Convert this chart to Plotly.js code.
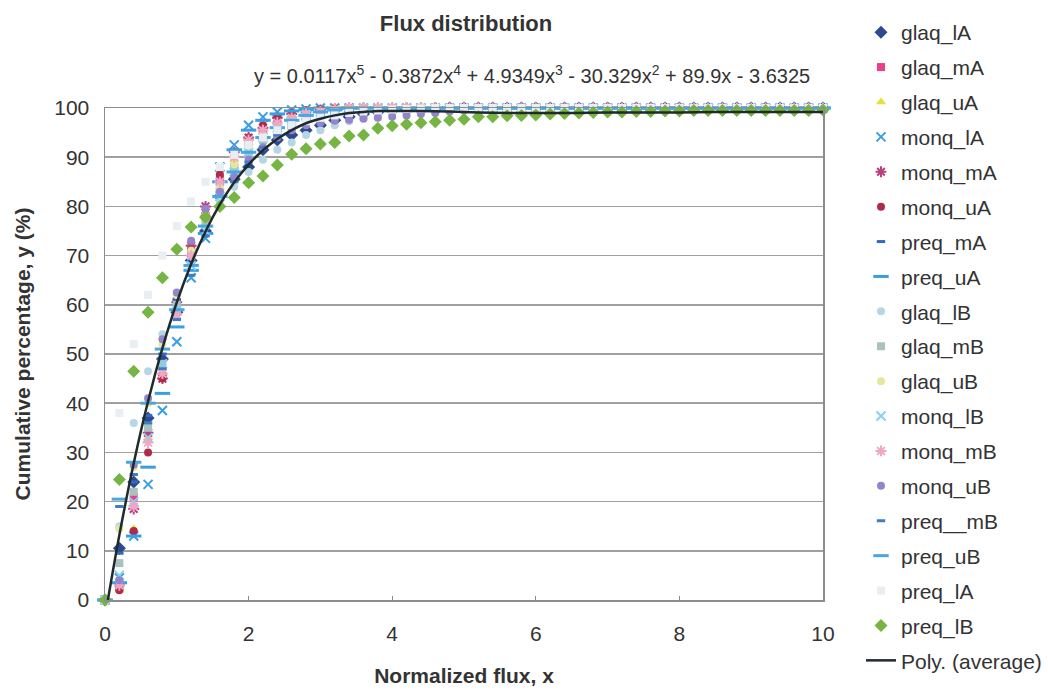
<!DOCTYPE html>
<html>
<head>
<meta charset="utf-8">
<script src="https://cdn.plot.ly/plotly-3.0.1.min.js"></script>
<style>
  html, body { margin: 0; padding: 0; background: #ffffff; }
  #chart { width: 1048px; height: 691px; }
</style>
</head>
<body>
<div id="chart"></div>
<script>
// Normalized flux sample points (x)
const fluxX = [
  0, 0.2, 0.4, 0.6, 0.8, 1, 1.2, 1.4, 1.6, 1.8,
  2, 2.2, 2.4, 2.6, 2.8, 3, 3.2, 3.4, 3.6, 3.8,
  4, 4.2, 4.4, 4.6, 4.8, 5, 5.2, 5.4, 5.6, 5.8,
  6, 6.2, 6.4, 6.6, 6.8, 7, 7.2, 7.4, 7.6, 7.8,
  8, 8.2, 8.4, 8.6, 8.8, 9, 9.2, 9.4, 9.6, 9.8,
  10
];

// Cumulative percentage for each sample set
const glaq_lA = [
  0, 10.5, 24, 37, 49, 58.5, 69, 75, 82, 85.5,
  88, 91.5, 93.5, 94.5, 95.5, 96.5, 97.5, 98.2, 98.8, 99.2,
  99.5, 99.7, 99.8, 99.9, 100, 100, 100, 100, 100, 100,
  100, 100, 100, 100, 100, 100, 100, 100, 100, 100,
  100, 100, 100, 100, 100, 100, 100, 100, 100, 100,
  100
];
const glaq_mA = [
  0, 2.5, 21, 34, 45.5, 60, 71.5, 78, 85.5, 88,
  92.5, 94, 96, 97.2, 98.2, 99, 99.4, 99.7, 99.9, 100,
  100, 100, 100, 100, 100, 100, 100, 100, 100, 100,
  100, 100, 100, 100, 100, 100, 100, 100, 100, 100,
  100, 100, 100, 100, 100, 100, 100, 100, 100, 100,
  100
];
const glaq_uA = [
  0, 2, 14.5, 33, 46, 61, 72.5, 78.5, 84, 89.5,
  93, 95.5, 97, 98.2, 99, 99.5, 99.8, 100, 100, 100,
  100, 100, 100, 100, 100, 100, 100, 100, 100, 100,
  100, 100, 100, 100, 100, 100, 100, 100, 100, 100,
  100, 100, 100, 100, 100, 100, 100, 100, 100, 100,
  100
];
const monq_lA = [
  0, 4.5, 13, 23.5, 38.5, 52.5, 65.5, 73.5, 88, 92.5,
  96.5, 98.2, 99.2, 99.6, 99.8, 100, 100, 100, 100, 100,
  100, 100, 100, 100, 100, 100, 100, 100, 100, 100,
  100, 100, 100, 100, 100, 100, 100, 100, 100, 100,
  100, 100, 100, 100, 100, 100, 100, 100, 100, 100,
  100
];
const monq_mA = [
  0, 3, 18.5, 34, 45, 60.5, 72, 80, 85, 91,
  94, 96, 98, 98.8, 99.3, 99.6, 99.8, 100, 100, 100,
  100, 100, 100, 100, 100, 100, 100, 100, 100, 100,
  100, 100, 100, 100, 100, 100, 100, 100, 100, 100,
  100, 100, 100, 100, 100, 100, 100, 100, 100, 100,
  100
];
const monq_uA = [
  0, 2, 14, 30, 45, 61, 71, 78.5, 86.5, 91,
  94, 96.5, 98, 99, 99.4, 99.7, 99.9, 100, 100, 100,
  100, 100, 100, 100, 100, 100, 100, 100, 100, 100,
  100, 100, 100, 100, 100, 100, 100, 100, 100, 100,
  100, 100, 100, 100, 100, 100, 100, 100, 100, 100,
  100
];
const preq_mA = [
  0, 9.5, 24, 37.5, 50, 61, 70, 76, 83, 87,
  91, 93.5, 95.5, 97, 98, 98.8, 99.3, 99.6, 99.8, 100,
  100, 100, 100, 100, 100, 100, 100, 100, 100, 100,
  100, 100, 100, 100, 100, 100, 100, 100, 100, 100,
  100, 100, 100, 100, 100, 100, 100, 100, 100, 100,
  100
];
const preq_uA = [
  0, 3.5, 13, 27, 42, 55.5, 67, 74.5, 85, 91.5,
  95.5, 97.5, 98.8, 99.4, 99.7, 100, 100, 100, 100, 100,
  100, 100, 100, 100, 100, 100, 100, 100, 100, 100,
  100, 100, 100, 100, 100, 100, 100, 100, 100, 100,
  100, 100, 100, 100, 100, 100, 100, 100, 100, 100,
  100
];
const glaq_lB = [
  0, 15, 36, 46.5, 54, 62, 70, 76, 81, 84,
  87, 89.5, 91.5, 93, 94.5, 95.5, 96.5, 97.3, 98, 98.5,
  99, 99.3, 99.5, 99.7, 99.8, 99.9, 100, 100, 100, 100,
  100, 100, 100, 100, 100, 100, 100, 100, 100, 100,
  100, 100, 100, 100, 100, 100, 100, 100, 100, 100,
  100
];
const glaq_mB = [
  0, 7.5, 22, 35, 48, 60, 70, 77, 83, 87.5,
  91, 93.5, 95.5, 97, 98, 98.7, 99.2, 99.5, 99.8, 100,
  100, 100, 100, 100, 100, 100, 100, 100, 100, 100,
  100, 100, 100, 100, 100, 100, 100, 100, 100, 100,
  100, 100, 100, 100, 100, 100, 100, 100, 100, 100,
  100
];
const glaq_uB = [
  0, 14.5, 27, 40, 52, 62, 71, 78, 84, 88.5,
  92, 94.5, 96.5, 97.8, 98.7, 99.3, 99.7, 100, 100, 100,
  100, 100, 100, 100, 100, 100, 100, 100, 100, 100,
  100, 100, 100, 100, 100, 100, 100, 100, 100, 100,
  100, 100, 100, 100, 100, 100, 100, 100, 100, 100,
  100
];
const monq_lB = [
  0, 5, 20, 33, 48, 59, 68, 75, 82, 87,
  91, 94, 96, 97.5, 98.5, 99.2, 99.6, 99.8, 100, 100,
  100, 100, 100, 100, 100, 100, 100, 100, 100, 100,
  100, 100, 100, 100, 100, 100, 100, 100, 100, 100,
  100, 100, 100, 100, 100, 100, 100, 100, 100, 100,
  100
];
const monq_mB = [
  0, 3, 19, 32, 46, 58, 70, 78, 85, 90,
  93.5, 95.5, 97, 98, 98.8, 99.3, 99.7, 100, 100, 100,
  100, 100, 100, 100, 100, 100, 100, 100, 100, 100,
  100, 100, 100, 100, 100, 100, 100, 100, 100, 100,
  100, 100, 100, 100, 100, 100, 100, 100, 100, 100,
  100
];
const monq_uB = [
  0, 4, 27.5, 41, 53, 62.5, 73, 79.5, 83, 86,
  89.5, 92, 94, 95.5, 96.5, 97, 97.4, 97.6, 97.8, 98,
  98.2, 98.5, 98.8, 99, 99.3, 99.5, 99.7, 99.8, 99.9, 100,
  100, 100, 100, 100, 100, 100, 100, 100, 100, 100,
  100, 100, 100, 100, 100, 100, 100, 100, 100, 100,
  100
];
const preq__mB = [
  0, 19, 25.5, 36, 47, 57, 66, 74, 80, 85,
  89, 92, 94.5, 96, 97.5, 98.5, 99, 99.5, 99.8, 100,
  100, 100, 100, 100, 100, 100, 100, 100, 100, 100,
  100, 100, 100, 100, 100, 100, 100, 100, 100, 100,
  100, 100, 100, 100, 100, 100, 100, 100, 100, 100,
  100
];
const preq_uB = [
  0, 20.5, 28, 40, 51, 59, 68, 76, 82, 87,
  91, 94, 96, 97.5, 98.5, 99.2, 99.6, 100, 100, 100,
  100, 100, 100, 100, 100, 100, 100, 100, 100, 100,
  100, 100, 100, 100, 100, 100, 100, 100, 100, 100,
  100, 100, 100, 100, 100, 100, 100, 100, 100, 100,
  100
];
const preq_lA = [
  0, 38, 52, 62, 70, 76, 81, 85, 88, 90.5,
  92.5, 94, 95.5, 96.5, 97.3, 98, 98.5, 99, 99.3, 99.5,
  99.7, 99.8, 99.9, 100, 100, 100, 100, 100, 100, 100,
  100, 100, 100, 100, 100, 100, 100, 100, 100, 100,
  100, 100, 100, 100, 100, 100, 100, 100, 100, 100,
  100
];
const preq_lB = [
  0, 24.5, 46.5, 58.5, 65.5, 71.3, 75.8, 77.8, 80, 81.8,
  84.8, 86.2, 88.4, 90.6, 91.7, 92.7, 93, 94.3, 94.5, 95.9,
  96.4, 96.7, 97, 97.2, 97.5, 97.7, 98.2, 98.2, 98.4, 98.5,
  98.6, 98.8, 98.9, 99, 99.1, 99.2, 99.2, 99.3, 99.3, 99.4,
  99.4, 99.5, 99.5, 99.5, 99.5, 99.5, 99.5, 99.5, 99.5, 99.5,
  99.6
];

// Polynomial trendline of the average series
const trendX = [
  0.04, 0.2, 0.4, 0.6, 0.8, 1, 1.2, 1.4, 1.6, 1.8,
  2, 2.2, 2.4, 2.6, 2.8, 3, 3.2, 3.4, 3.6, 3.8,
  4, 4.4, 4.8, 5.2, 5.6, 6, 6.5, 7, 7.5, 8,
  8.5, 9, 9.5, 10
];
const trendY = [
  0, 13.2, 27.8, 40.4, 51.2, 60.5, 68.3, 74.9, 80.4, 84.9,
  88.5, 91.4, 93.7, 95.5, 96.9, 97.8, 98.5, 99.0, 99.2, 99.4,
  99.4, 99.4, 99.3, 99.1, 99.0, 99.0, 99.0, 99.1, 99.1, 99.1,
  99.2, 99.2, 99.2, 99.2
];

const seriesNames = [
  'glaq_lA', 'glaq_mA', 'glaq_uA', 'monq_lA', 'monq_mA', 'monq_uA',
  'preq_mA', 'preq_uA', 'glaq_lB', 'glaq_mB', 'glaq_uB', 'monq_lB',
  'monq_mB', 'monq_uB', 'preq__mB', 'preq_uB', 'preq_lA', 'preq_lB'
];
const seriesValues = [
  glaq_lA, glaq_mA, glaq_uA, monq_lA, monq_mA, monq_uA,
  preq_mA, preq_uA, glaq_lB, glaq_mB, glaq_uB, monq_lB,
  monq_mB, monq_uB, preq__mB, preq_uB, preq_lA, preq_lB
];

// Marker styling per series
const markerStyles = [
  { symbol: 'diamond',       size: 10, color: '#2e4a8e', lw: 0 },
  { symbol: 'square',        size: 8,  color: '#ee3d8a', lw: 0 },
  { symbol: 'triangle-up',   size: 9,  color: '#e3e337', lw: 0 },
  { symbol: 'x-thin-open',   size: 9,  color: '#3a9ee0', lw: 2 },
  { symbol: 'asterisk-open', size: 9,  color: '#b8407e', lw: 2 },
  { symbol: 'circle',        size: 8,  color: '#b02a4a', lw: 0 },
  { symbol: 'line-ew-open',  size: 6,  color: '#2f6cc0', lw: 3 },
  { symbol: 'line-ew-open',  size: 11, color: '#3a9ee0', lw: 3 },
  { symbol: 'circle',        size: 8,  color: '#b6d6e6', lw: 0 },
  { symbol: 'square',        size: 8,  color: '#a9c2be', lw: 0 },
  { symbol: 'circle',        size: 8,  color: '#e3e89c', lw: 0 },
  { symbol: 'x-thin-open',   size: 9,  color: '#86d0f0', lw: 2 },
  { symbol: 'asterisk-open', size: 9,  color: '#eea8c4', lw: 2 },
  { symbol: 'circle',        size: 8,  color: '#9484cc', lw: 0 },
  { symbol: 'line-ew-open',  size: 6,  color: '#3f7cc4', lw: 3 },
  { symbol: 'line-ew-open',  size: 11, color: '#4aa6e0', lw: 3 },
  { symbol: 'square',        size: 8,  color: '#e8eef1', lw: 0 },
  { symbol: 'diamond',       size: 10, color: '#76b443', lw: 0 }
];

const traces = seriesNames.map((name, i) => {
  const st = markerStyles[i];
  return {
    type: 'scatter',
    mode: 'markers',
    name: name,
    legendgroup: name,
    x: fluxX,
    y: seriesValues[i],
    cliponaxis: false,
    marker: {
      symbol: st.symbol,
      size: st.size,
      color: st.color,
      line: { width: st.lw, color: st.color }
    }
  };
});

traces.push({
  type: 'scatter',
  mode: 'lines',
  name: 'Poly. (average)',
  legendgroup: 'trend',
  x: trendX,
  y: trendY,
  line: { color: '#1f2a2c', width: 2.5, shape: 'spline', smoothing: 0.8 }
});

const layout = {
  width: 1048,
  height: 691,
  margin: { l: 105, r: 225, t: 108, b: 91 },
  paper_bgcolor: '#ffffff',
  plot_bgcolor: '#ffffff',
  font: { family: 'Liberation Sans, Arial, sans-serif', color: '#333333' },
  title: {
    text: '<b>Flux distribution</b>',
    font: { size: 22, color: '#333333' },
    x: 466 / 1048, xanchor: 'center', xref: 'container',
    y: 1 - 23 / 691, yanchor: 'middle', yref: 'container'
  },
  xaxis: {
    range: [0, 10],
    tickvals: [0, 2, 4, 6, 8, 10],
    showgrid: false,
    zeroline: false,
    showline: true,
    mirror: true,
    linecolor: '#8c8c8c',
    linewidth: 1.5,
    ticks: 'inside',
    ticklen: 4,
    tickcolor: '#8c8c8c',
    ticklabelstandoff: 14,
    tickfont: { size: 21, color: '#333333' },
    title: { text: '<b>Normalized flux, x</b>', font: { size: 21, color: '#333333' }, standoff: 24 }
  },
  yaxis: {
    range: [0, 100],
    dtick: 10,
    showgrid: true,
    gridcolor: '#a0a0a0',
    gridwidth: 1.5,
    zeroline: false,
    showline: true,
    mirror: true,
    linecolor: '#8c8c8c',
    linewidth: 1.5,
    ticks: '',
    ticklabelstandoff: 10,
    tickfont: { size: 21, color: '#333333' },
    title: { text: '<b>Cumulative percentage, y (%)</b>', font: { size: 21, color: '#333333' }, standoff: 18 }
  },
  legend: {
    xref: 'container', yref: 'container',
    x: 861 / 1048, xanchor: 'left',
    y: 1 - 12 / 691, yanchor: 'top',
    maxheight: 685,
    font: { size: 21, color: '#333333' },
    tracegroupgap: 4.6,
    bgcolor: 'rgba(0,0,0,0)'
  },
  annotations: [{
    xref: 'paper', yref: 'paper',
    x: (532 - 105) / 718, y: (600 - 75) / 492,
    xanchor: 'center', yanchor: 'middle',
    showarrow: false,
    text: 'y = 0.0117x<sup>5</sup> - 0.3872x<sup>4</sup> + 4.9349x<sup>3</sup> - 30.329x<sup>2</sup> + 89.9x - 3.6325',
    font: { size: 20, color: '#333333' }
  }]
};

Plotly.newPlot('chart', traces, layout, { displayModeBar: false, staticPlot: true });
</script>
</body>
</html>
